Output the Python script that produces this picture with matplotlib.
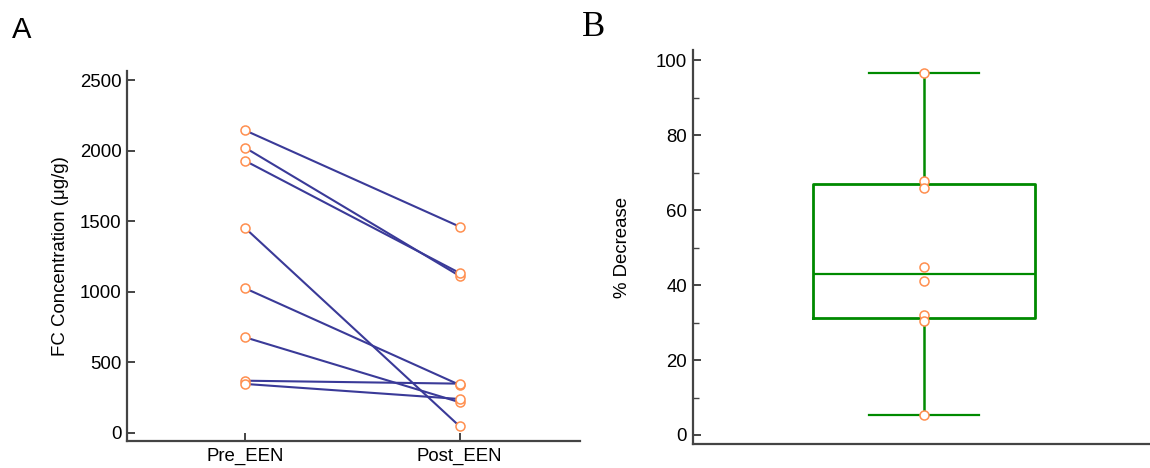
import matplotlib
matplotlib.use("Agg")
import matplotlib.pyplot as plt
import numpy as np
from matplotlib.ticker import MultipleLocator

# Panel A: paired FC concentrations (ug/g), one row per patient
groups = ["Pre_EEN", "Post_EEN"]
pre_een = [2146, 2023, 1930, 1453, 1025, 677, 369, 346]
post_een = [1462, 1112, 1133, 45, 339, 216, 348, 239]

# Panel B: % decrease per patient
pct_decrease = [96.7, 67.7, 66.0, 44.9, 41.1, 31.9, 30.5, 5.3]

LINE_C = "#3a3a98"
MARK_C = "#ff8f4f"
BOX_C = "#008a00"
SPINE_C = "#444444"
FS = 13.4

plt.rcParams["font.family"] = ["Liberation Sans", "DejaVu Sans"]

fig = plt.figure(figsize=(11.5, 4.68), dpi=100)
ax_a = fig.add_axes([0.1104, 0.0577, 0.3939, 0.7906])
ax_b = fig.add_axes([0.6023, 0.0513, 0.3977, 0.8417])


def style_axis(ax):
    for side in ("top", "right"):
        ax.spines[side].set_visible(False)
    for side in ("left", "bottom"):
        ax.spines[side].set_color(SPINE_C)
        ax.spines[side].set_linewidth(1.6)
    ax.tick_params(direction="in", length=6, width=1.4, color=SPINE_C,
                   labelsize=FS, pad=4)


# ---- panel A
xs = np.arange(len(groups))
for a, b in zip(pre_een, post_een):
    ax_a.plot(xs, [a, b], color=LINE_C, linewidth=1.5, zorder=2)
    ax_a.plot(xs, [a, b], linestyle="none", marker="o", markersize=6.5,
              markerfacecolor="white", markeredgecolor=MARK_C,
              markeredgewidth=1.1, zorder=3)

style_axis(ax_a)
ax_a.set_xlim(-0.55, 1.56)
ax_a.set_ylim(-59, 2567)
ax_a.set_yticks(np.arange(0, 2501, 500))
ax_a.set_xticks(xs)
ax_a.set_xticklabels(groups)
ax_a.tick_params(axis="x", pad=5)
ax_a.set_ylabel("FC Concentration (μg/g)", fontsize=FS, labelpad=8)
fig.text(0.010, 0.905, "A", fontsize=21, ha="left", va="bottom")

# ---- panel B (Tukey hinges)
vals = np.sort(np.array(pct_decrease))
half = len(vals) // 2
stats = [{
    "med": np.median(vals),
    "q1": np.median(vals[:half]),
    "q3": np.median(vals[-half:]),
    "whislo": vals.min(),
    "whishi": vals.max(),
    "fliers": [],
}]
pos = 0.506
ax_b.bxp(stats, positions=[pos], widths=0.485, showfliers=False,
         boxprops=dict(color=BOX_C, linewidth=2.0),
         whiskerprops=dict(color=BOX_C, linewidth=1.8),
         capprops=dict(color=BOX_C, linewidth=1.6),
         medianprops=dict(color=BOX_C, linewidth=1.6),
         capwidths=0.24, manage_ticks=False)
ax_b.plot([pos] * len(pct_decrease), pct_decrease, linestyle="none",
          marker="o", markersize=6.5, markerfacecolor="white",
          markeredgecolor=MARK_C, markeredgewidth=1.1, zorder=4)

style_axis(ax_b)
ax_b.set_xlim(0, 1)
ax_b.set_ylim(-2.4, 102.7)
ax_b.yaxis.set_major_locator(MultipleLocator(20))
ax_b.yaxis.set_minor_locator(MultipleLocator(10))
ax_b.tick_params(axis="y", which="minor", direction="in", length=4,
                 width=1.0, color=SPINE_C)
ax_b.set_xticks([])
ax_b.set_ylabel("% Decrease", fontsize=FS, labelpad=18)
fig.text(0.506, 0.905, "B", fontsize=25, ha="left", va="bottom",
         family="Liberation Serif")

fig.savefig("out.png", dpi=100)
